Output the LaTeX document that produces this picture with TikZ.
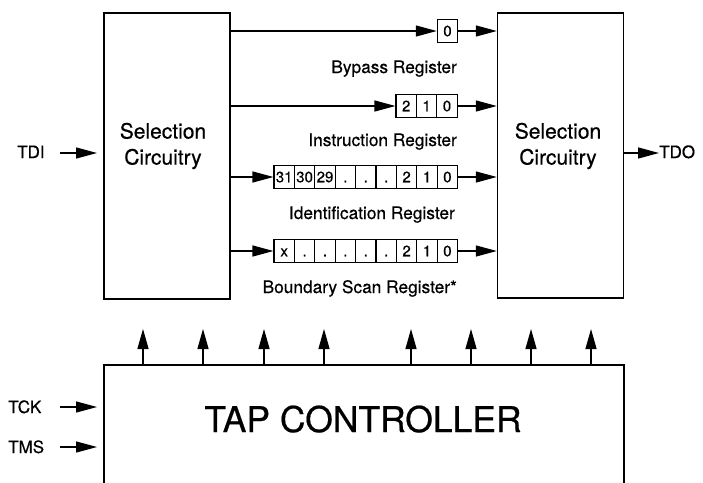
\documentclass[tikz,border=0pt]{standalone}
\usepackage{fontspec}
\setmainfont{TeX Gyre Heros}[FakeBold=0.5]
\usetikzlibrary{arrows.meta}

\tikzset{
  wire/.style={line width=1.3pt},
  arr/.style={wire, -{Triangle[length=21pt,width=11pt]}},
  uparr/.style={wire, -{Triangle[length=20pt,width=11pt]}},
  blockbox/.style={draw, line width=1.4pt, minimum width=126pt, inner sep=0pt},
  cell/.style={draw, line width=1.1pt, minimum width=20.4pt, minimum height=23pt,
    inner sep=0pt, text height=10.5pt, text depth=0pt, font=\fontsize{15}{15}\selectfont},
  reglabel/.style={anchor=base east, inner sep=0pt, font=\fontsize{17.3}{17.3}\selectfont},
  pinlabel/.style={anchor=base west, inner sep=0pt, font=\fontsize{17}{17}\selectfont},
  boxtext/.style={align=center, inner sep=0pt, font=\fontsize{21}{26}\selectfont},
}

\begin{document}
\begin{tikzpicture}[x=1pt, y=-1pt]
\clip (0,0) rectangle (703,482);
\fill[white] (0,0) rectangle (703,482);

% selection blocks on either side of the registers
\node[blockbox, minimum height=286pt] (selL) at (167,156) {};
\node[blockbox, minimum height=285pt] (selR) at (560.5,155.5) {};
\node[boxtext] (selLtxt) at (163,146) {Selection\\Circuitry};
\node[boxtext] (selRtxt) at (558,146) {Selection\\Circuitry};

% bypass register
\node[cell] (by0) at (447.5,31) {0};

% instruction register
\foreach \t [count=\i] in {2,1,0}
  \node[cell] (ir\i) at ({396+20.4*(\i-0.5)},106) {\t};

% identification register
\foreach \t [count=\i] in {31,30,29,.,.,.,2,1,0}
  \node[cell] (id\i) at ({274+20.4*(\i-0.5)},177) {\t};

% boundary scan register
\foreach \t [count=\i] in {x,.,.,.,.,.,2,1,0}
  \node[cell] (bs\i) at ({274+20.4*(\i-0.5)},251) {\t};

% register names
\node[reglabel] (lby) at (457,73) {Bypass Register};
\node[reglabel] (lir) at (457,146) {Instruction Register};
\node[reglabel] (lid) at (455,219) {Identification Register};
\node[reglabel] (lbs) at (457,293) {Boundary Scan Register*};

% data paths through the registers
\draw[arr] (selL.east |- by0.west) -- (by0.west);
\draw[arr] (by0.east) -- (selR.west |- by0.east);
\draw[arr] (selL.east |- ir1.west) -- (ir1.west);
\draw[arr] (ir3.east) -- (selR.west |- ir3.east);
\draw[arr] (selL.east |- id1.west) -- (id1.west);
\draw[arr] (id9.east) -- (selR.west |- id9.east);
\draw[arr] (selL.east |- bs1.west) -- (bs1.west);
\draw[arr] (bs9.east) -- (selR.west |- bs9.east);

% serial pins
\node[pinlabel] (tdi) at (17,158) {TDI};
\coordinate (tdiend) at (97,153);
\draw[arr] (60,153) -- (tdiend);
\node[pinlabel] (tdo) at (659,158) {TDO};
\draw[arr] (selR.east |- 0,153) -- (tdo.west |- 0,153);

% TAP controller (open at the bottom edge)
\node[draw, line width=1.4pt, minimum width=520pt, minimum height=140pt, inner sep=0pt]
  (tap) at (364,435) {};
\node[inner sep=0pt, font=\fontsize{35.5}{35.5}\selectfont, anchor=base] (taptxt) at (363,432) {TAP CONTROLLER};

\node[pinlabel] (tck) at (8,413) {TCK};
\node[pinlabel] (tms) at (8,453) {TMS};
\coordinate (tckend) at (97,407);
\coordinate (tmsend) at (97,447);
\draw[arr] (60,407) -- (tckend);
\draw[arr] (60,447) -- (tmsend);

% control lines from the TAP controller
\foreach \x [count=\i] in {143,203,264,324,411,471,531,591} {
  \coordinate (up\i) at (\x,329);
  \draw[uparr] (tap.north -| up\i) -- (up\i);
}
\end{tikzpicture}
\end{document}
